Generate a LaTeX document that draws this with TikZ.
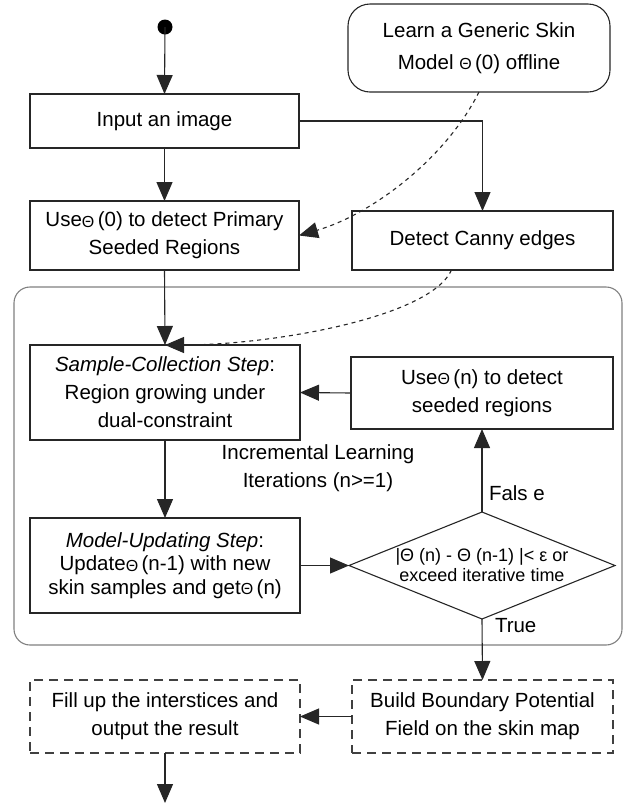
\documentclass[tikz,border=0pt]{standalone}
\usepackage{fontspec}
\setmainfont{Liberation Sans}
\usetikzlibrary{arrows.meta,shapes.geometric}
% small theta used inside the box texts
\newcommand\sth{\raisebox{-0.05ex}{\fontsize{16}{16}\selectfont Θ}}
\begin{document}
\begin{tikzpicture}[x=1pt,y=-1pt,
  font=\fontsize{20.5}{28}\selectfont,
  line width=1.1pt,
  every node/.style={inner sep=0pt, outer sep=0pt},
  box/.style={draw=black!85, rectangle, align=center},
  dbox/.style={box, draw=black!75, dash pattern=on 9pt off 6pt},
  flow/.style={draw=black!85, -{Triangle[length=19pt,width=16pt]}},
  hint/.style={draw=black!85, dash pattern=on 4pt off 4pt, -{Triangle[length=19pt,width=16pt]}},
  lbl/.style={align=center}]
\useasboundingbox (0,0) rectangle (629,807);

% loop frame
\draw[draw=black!50, rounded corners=16pt] (14,287) rectangle (622,645);

% start point
\fill[black] (165,27) circle (7.5pt) coordinate (start);
\coordinate (stop) at (165,803);

% boxes
\node[box, minimum width=269pt, minimum height=54pt] (inp) at (164.5,121) {Input an image};
\node[box, minimum width=269pt, minimum height=69pt] (use0) at (164.5,235.5)
  {Use\sth\,(0) to detect Primary\\Seeded Regions};
\node[box, rounded corners=22pt, minimum width=262pt, minimum height=88pt,
  font=\fontsize{20.5}{32}\selectfont] (learn) at (479,48)
  {Learn a Generic Skin\\Model \sth\,(0) offline};
\node[box, minimum width=261pt, minimum height=59pt] (canny) at (482.5,240.5) {Detect Canny edges};
\node[box, minimum width=270pt, minimum height=95pt] (sample) at (165,392.5)
  {\textit{Sample-Collection Step}:\\Region growing under\\dual-constraint};
\node[box, minimum width=262pt, minimum height=72pt] (usen) at (482,393)
  {Use\sth\,(n) to detect\\seeded regions};
\node[box, minimum width=270pt, minimum height=95pt, font=\fontsize{20.5}{23.5}\selectfont] (model) at (165,565.5)
  {\textit{Model-Updating Step}:\\Update\sth\,(n-1) with new\\skin samples and get\sth\,(n)};
\node[draw=black!85, diamond, minimum width=266pt, minimum height=107pt] (dia) at (482,565.5) {};
\node[lbl, font=\fontsize{18}{20}\selectfont] (diatext) at (482,565.5)
  {|Θ (n) - Θ (n-1) |< ε or\\exceed iterative time};
\node[dbox, minimum width=261pt, minimum height=73pt] (build) at (482.5,716.5)
  {Build Boundary Potential\\Field on the skin map};
\node[dbox, minimum width=270pt, minimum height=73pt] (fill) at (165,716.5)
  {Fill up the interstices and\\output the result};

% labels
\node[lbl] (iter) at (318,468.5) {Incremental Learning\\Iterations (n>=1)};
\node[anchor=west] (lfalse) at (489,493) {Fals e};
\node[anchor=west] (ltrue) at (495,626) {True};

% connectors
\draw[flow] (start) -- (inp.north);
\draw[flow] (inp.south) -- (use0.north);
\draw[flow] (inp.east) -| (canny.north);
\draw[flow] (use0.south) -- (sample.north);
\draw[flow] (sample.south) -- (model.north);
\draw[flow] (model.east) -- (dia.west);
\draw[flow] (dia.north) -- (usen.south);
\draw[flow] (usen.west) -- (sample.east);
\draw[flow] (dia.south) -- (build.north);
\draw[flow] (build.west) -- (fill.east);
\draw[flow] (fill.south) -- (stop);

% hints from the offline model and the edge map
\draw[hint] (learn.south) .. controls (445,160) and (370,215) .. (use0.east);
\draw[hint] ([xshift=-31pt]canny.south) .. controls (430,318) and (270,345) .. (sample.north);
\end{tikzpicture}
\end{document}
